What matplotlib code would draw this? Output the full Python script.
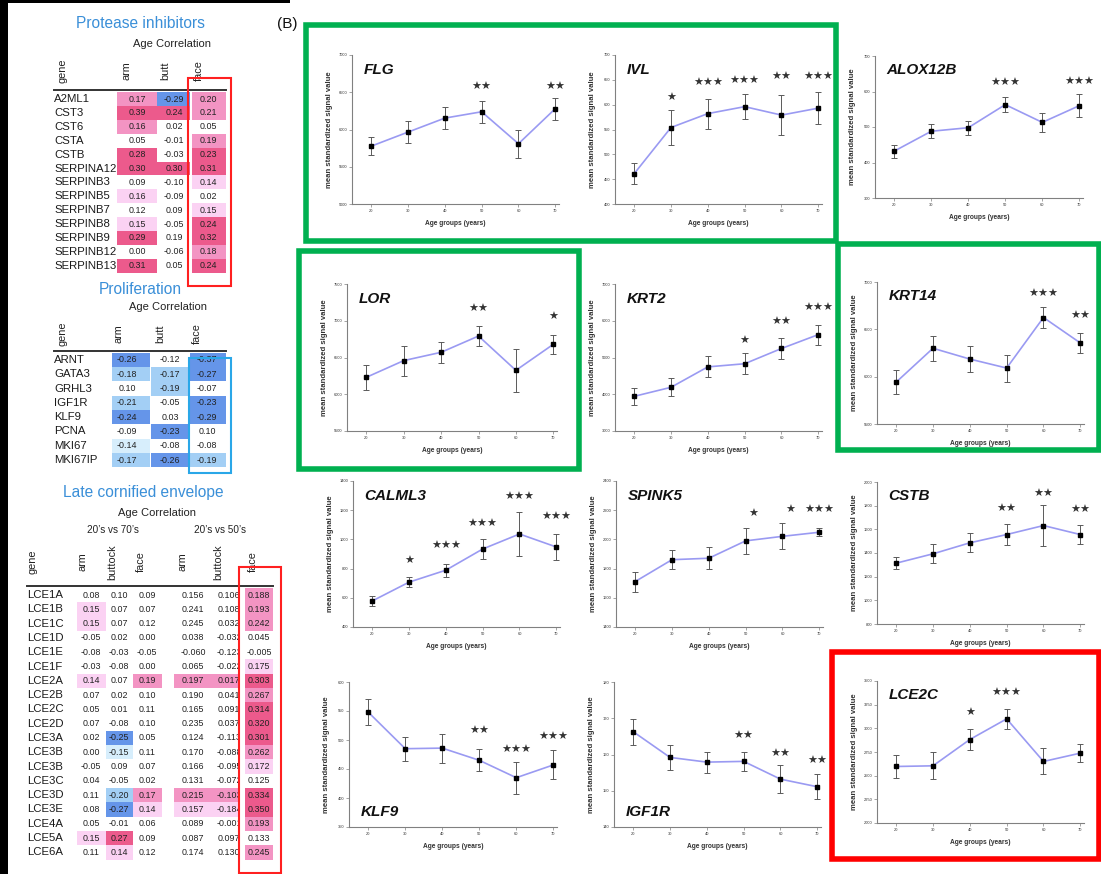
import numpy as np
import matplotlib
matplotlib.use("Agg")
from matplotlib import pyplot as plt
from matplotlib.patches import Rectangle

plt.rcParams['font.family'] = ['Liberation Sans', 'DejaVu Sans']

W, H = 1101, 874

# ---------------- left tables ----------------
prot_genes = ["A2ML1", "CST3", "CST6", "CSTA", "CSTB", "SERPINA12", "SERPINB3",
              "SERPINB5", "SERPINB7", "SERPINB8", "SERPINB9", "SERPINB12", "SERPINB13"]
prot_arm = [0.17, 0.39, 0.16, 0.05, 0.28, 0.30, 0.09, 0.16, 0.12, 0.15, 0.29, 0.00, 0.31]
prot_butt = [-0.29, 0.24, 0.02, -0.01, -0.03, 0.30, -0.10, -0.09, 0.09, -0.05, 0.19, -0.06, 0.05]
prot_face = [0.20, 0.21, 0.05, 0.19, 0.23, 0.31, 0.14, 0.02, 0.15, 0.24, 0.32, 0.18, 0.24]
# shading: 1..3 pink, -1..-3 blue, 0 none
prot_arm_lvl = [2, 3, 2, 0, 3, 3, 0, 1, 0, 1, 3, 0, 3]
prot_butt_lvl = [-3, 3, 0, 0, 0, 3, 0, 0, 0, 0, 0, 0, 0]
prot_face_lvl = [2, 2, 0, 2, 3, 3, 1, 0, 1, 3, 3, 2, 3]

prol_genes = ["ARNT", "GATA3", "GRHL3", "IGF1R", "KLF9", "PCNA", "MKI67", "MKI67IP"]
prol_arm = [-0.26, -0.18, 0.10, -0.21, -0.24, -0.09, -0.14, -0.17]
prol_butt = [-0.12, -0.17, -0.19, -0.05, 0.03, -0.23, -0.08, -0.26]
prol_face = [-0.37, -0.27, -0.07, -0.23, -0.29, 0.10, -0.08, -0.19]
prol_arm_lvl = [-3, -2, 0, -2, -3, 0, -1, -2]
prol_butt_lvl = [0, -2, -2, 0, 0, -3, 0, -3]
prol_face_lvl = [-3, -3, 0, -3, -3, 0, 0, -2]

lce_genes = ["LCE1A", "LCE1B", "LCE1C", "LCE1D", "LCE1E", "LCE1F", "LCE2A", "LCE2B",
             "LCE2C", "LCE2D", "LCE3A", "LCE3B", "LCE3B", "LCE3C", "LCE3D", "LCE3E",
             "LCE4A", "LCE5A", "LCE6A"]
lce_arm70 = [0.08, 0.15, 0.15, -0.05, -0.08, -0.03, 0.14, 0.07, 0.05, 0.07, 0.02, 0.00,
             -0.05, 0.04, 0.11, 0.08, 0.05, 0.15, 0.11]
lce_butt70 = [0.10, 0.07, 0.07, 0.02, -0.03, -0.08, 0.07, 0.02, 0.01, -0.08, -0.25, -0.15,
              0.09, -0.05, -0.20, -0.27, -0.01, 0.27, 0.14]
lce_face70 = [0.09, 0.07, 0.12, 0.00, -0.05, 0.00, 0.19, 0.10, 0.11, 0.10, 0.05, 0.11,
              0.07, 0.02, 0.17, 0.14, 0.06, 0.09, 0.12]
lce_arm50 = [0.156, 0.241, 0.245, 0.038, -0.060, 0.065, 0.197, 0.190, 0.165, 0.235, 0.124,
             0.170, 0.166, 0.131, 0.215, 0.157, 0.089, 0.087, 0.174]
lce_butt50 = [0.106, 0.108, 0.032, -0.032, -0.123, -0.022, 0.017, 0.041, 0.091, 0.037,
              -0.113, -0.088, -0.095, -0.072, -0.103, -0.184, -0.001, 0.097, 0.130]
lce_face50 = [0.188, 0.193, 0.242, 0.045, -0.005, 0.175, 0.303, 0.267, 0.314, 0.320, 0.301,
              0.262, 0.172, 0.125, 0.334, 0.350, 0.193, 0.133, 0.245]
lce_arm70_lvl = [0, 1, 1, 0, 0, 0, 1, 0, 0, 0, 0, 0, 0, 0, 0, 0, 0, 1, 0]
lce_butt70_lvl = [0, 0, 0, 0, 0, 0, 0, 0, 0, 0, -3, -1, 0, 0, -2, -3, 0, 3, 1]
lce_face70_lvl = [0, 0, 0, 0, 0, 0, 2, 0, 0, 0, 0, 0, 0, 0, 2, 1, 0, 0, 0]
lce_arm50_lvl = [0, 0, 0, 0, 0, 0, 2, 0, 0, 0, 0, 0, 0, 0, 2, 1, 0, 0, 0]
lce_butt50_lvl = [0, 0, 0, 0, 0, 0, 2, 0, 0, 0, 0, 0, 0, 0, 2, 1, 0, 0, 0]
lce_face50_lvl = [2, 2, 2, 0, 0, 1, 3, 2, 3, 3, 3, 2, 1, 0, 3, 3, 2, 0, 2]

# ---------------- line charts ----------------
ages = [20, 30, 40, 50, 60, 70]

flg = [5776, 5965, 6153, 6238, 5809, 6280]
flg_err = [120, 150, 150, 146, 190, 146]
flg_stars = [(50, 2, 6576), (70, 2, 6576)]

ivl = [461, 554, 582, 596, 579, 593]
ivl_err = [21, 35, 30, 25, 41, 32]
ivl_stars = [(30, 1, 614), (40, 3, 643), (50, 3, 648), (60, 2, 655), (70, 3, 655)]

alox = [432, 488, 498, 563, 513, 560]
alox_err = [18, 20, 20, 21, 27, 33]
alox_stars = [(50, 3, 624), (70, 3, 627)]

lor = [6231, 6458, 6571, 6792, 6325, 6679]
lor_err = [172, 205, 146, 140, 288, 130]
lor_stars = [(50, 2, 7160), (70, 1, 7052)]

krt2 = [3943, 4189, 4745, 4830, 5245, 5623]
krt2_err = [226, 245, 285, 280, 290, 270]
krt2_stars = [(50, 1, 5462), (60, 2, 5962), (70, 3, 6340)]

krt14 = [5942, 6300, 6186, 6091, 6625, 6356]
krt14_err = [127, 134, 133, 143, 112, 101]
krt14_stars = [(60, 3, 6876), (70, 2, 6643)]

calml3 = [578, 707, 789, 934, 1037, 948]
calml3_err = [36, 34, 44, 68, 152, 89]
calml3_stars = [(30, 1, 850), (40, 3, 953), (50, 3, 1103), (60, 3, 1290), (70, 3, 1154)]

spink5 = [1711, 1861, 1871, 1990, 2021, 2049]
spink5_err = [69, 67, 74, 90, 90, 27]
spink5_stars = [(52, 1, 2173), (62, 1, 2201), (70, 3, 2201)]

cstb = [1314, 1393, 1486, 1556, 1632, 1556]
cstb_err = [48, 79, 80, 86, 174, 79]
cstb_stars = [(50, 2, 1770), (60, 2, 1896), (70, 2, 1764)]

klf9 = [548, 485, 486, 465, 435, 457]
klf9_err = [22, 20.5, 25, 19, 27.5, 25]
klf9_stars = [(50, 2, 516), (60, 3, 483), (70, 3, 505)]

igf1r = [166.3, 159.2, 157.9, 158.1, 153.2, 151.1]
igf1r_err = [3.6, 3.5, 2.9, 2.6, 3.8, 3.4]
igf1r_stars = [(50, 2, 165.1), (60, 2, 160.1), (70, 2, 158.1)]

lce2c = [2597, 2604, 2882, 3100, 2650, 2738]
lce2c_err = [126, 144, 116, 107, 137, 98]
lce2c_stars = [(40, 1, 3159), (50, 3, 3377)]

panels = [
    # name, mean, err, stars, (ymin, ymax, step), label at bottom, (left, top, w, h) px
    ("FLG", flg, flg_err, flg_stars, (5000, 7000, 500), False, (352, 55, 207, 149)),
    ("IVL", ivl, ivl_err, ivl_stars, (400, 700, 50), False, (615, 55, 207, 149)),
    ("ALOX12B", alox, alox_err, alox_stars, (300, 700, 100), False, (875, 56, 208, 142)),
    ("LOR", lor, lor_err, lor_stars, (5500, 7500, 500), False, (347, 284, 210, 147)),
    ("KRT2", krt2, krt2_err, krt2_stars, (3000, 7000, 1000), False, (615, 284, 207, 147)),
    ("KRT14", krt14, krt14_err, krt14_stars, (5500, 7000, 500), False, (877, 282, 207, 142)),
    ("CALML3", calml3, calml3_err, calml3_stars, (400, 1400, 200), False, (353, 481, 207, 146)),
    ("SPINK5", spink5, spink5_err, spink5_stars, (1400, 2400, 200), False, (616, 481, 207, 146)),
    ("CSTB", cstb, cstb_err, cstb_stars, (800, 2000, 200), False, (877, 482, 207, 142)),
    ("KLF9", klf9, klf9_err, klf9_stars, (350, 600, 50), True, (349, 682, 208, 145)),
    ("IGF1R", igf1r, igf1r_err, igf1r_stars, (140, 180, 10), True, (614, 682, 207, 145)),
    ("LCE2C", lce2c, lce2c_err, lce2c_stars, (2000, 3500, 250), False, (877, 681, 207, 142)),
]

PINK = {1: '#fbd2f3', 2: '#f394c3', 3: '#ec5a8c'}
BLUE = {-1: '#d7eefc', -2: '#a3cff5', -3: '#6595e9'}
TITLE = '#3a8fd8'


def shade(lvl):
    return PINK.get(lvl) or BLUE.get(lvl)


fig = plt.figure(figsize=(W / 100, H / 100), dpi=100)
fig.patch.set_facecolor('white')

bg = fig.add_axes([0, 0, 1, 1])
bg.set_xlim(0, W)
bg.set_ylim(H, 0)
bg.axis('off')


def draw_table(genes, cols, y0, dy, name_x):
    for i, g in enumerate(genes):
        y = y0 + i * dy
        bg.text(name_x, y, g, fontsize=8.2, ha='left', va='center', color='#1a1a1a')
        for vals, lvls, x0, x1, tx, nd, z in cols:
            if lvls[i]:
                bg.add_patch(Rectangle((x0, y - dy / 2), x1 - x0, dy, facecolor=shade(lvls[i]),
                                       lw=0, zorder=z))
            bg.text(tx, y, f"{vals[i]:.{nd}f}", fontsize=6.4, ha='center', va='center',
                    color='#222222', zorder=z + 0.5)


def headers(names, xs, yc, gene_x):
    bg.text(gene_x, yc, "gene", rotation=90, fontsize=7.8, ha='center', va='center', color='#222')
    for n, x in zip(names, xs):
        bg.text(x, yc, n, rotation=90, fontsize=7.8, ha='center', va='center', color='#222')


# Protease inhibitors
bg.text(140, 24, "Protease inhibitors", fontsize=11.2, color=TITLE, ha='center', va='center')
bg.text(172, 44, "Age Correlation", fontsize=8, ha='center', va='center', color='#222')
headers(["arm", "butt", "face"], [127, 165, 199], 71, 62)
bg.plot([54, 226], [90, 90], color='#333333', lw=1.4)
draw_table(prot_genes, [
    (prot_arm, prot_arm_lvl, 117, 157, 137, 2, 1),
    (prot_butt, prot_butt_lvl, 157, 190, 174, 2, 1),
    (prot_face, prot_face_lvl, 192, 226, 208, 2, 1),
], 99, 13.9, 54)

# Proliferation
bg.text(140, 290, "Proliferation", fontsize=11.2, color=TITLE, ha='center', va='center')
bg.text(168, 307, "Age Correlation", fontsize=8, ha='center', va='center', color='#222')
headers(["arm", "butt", "face"], [118, 160, 197], 334, 63)
bg.plot([54, 226], [351, 351], color='#333333', lw=1.4)
draw_table(prol_genes, [
    (prol_arm, prol_arm_lvl, 112, 150, 127, 2, 1),
    (prol_butt, prol_butt_lvl, 151, 189, 170, 2, 1),
    (prol_face, prol_face_lvl, 190, 226, 207, 2, 1),
], 360, 14.3, 54)

# Late cornified envelope
bg.text(143, 492, "Late cornified envelope", fontsize=11.2, color=TITLE, ha='center', va='center')
bg.text(157, 513, "Age Correlation", fontsize=8, ha='center', va='center', color='#222')
bg.text(113, 530, "20\u2019s vs 70\u2019s", fontsize=7.2, ha='center', va='center', color='#222')
bg.text(220, 530, "20\u2019s vs 50\u2019s", fontsize=7.2, ha='center', va='center', color='#222')
headers(["arm", "buttock", "face", "arm", "buttock", "face"],
        [83, 112, 141, 183, 218, 253], 562, 33)
bg.plot([27, 273], [586, 586], color='#333333', lw=1.4)
lce_y0, lce_dy = 595, 14.3
# white column under the last column hides the overflow of the buttock values
bg.add_patch(Rectangle((239, lce_y0 - lce_dy / 2), 37, lce_dy * len(lce_genes),
                       facecolor='white', lw=0, zorder=3))
draw_table(lce_genes, [
    (lce_arm70, lce_arm70_lvl, 77, 106, 91, 2, 1),
    (lce_butt70, lce_butt70_lvl, 106, 133, 119, 2, 1),
    (lce_face70, lce_face70_lvl, 133, 162, 147, 2, 1),
    (lce_arm50, lce_arm50_lvl, 174, 213, 193, 3, 1),
    (lce_butt50, lce_butt50_lvl, 213, 239, 229, 3, 1),
    (lce_face50, lce_face50_lvl, 245, 273, 259, 3, 4),
], lce_y0, lce_dy, 27)

# black frame at the left / top
bg.add_patch(Rectangle((0, 0), 8, H, facecolor='black', lw=0, zorder=6))
bg.add_patch(Rectangle((0, 0), 290, 3, facecolor='black', lw=0, zorder=6))
bg.text(277, 24, "(B)", fontsize=11, ha='left', va='center', color='#111')


# ---------------- charts ----------------
def px_axes(l, t, w, h):
    return fig.add_axes([l / W, 1 - (t + h) / H, w / W, h / H])


for name, mean, err, stars, (lo, hi, step), bottom, (l, t, w, h) in panels:
    ax = px_axes(l, t, w, h)
    ax.errorbar(ages, mean, yerr=err, fmt='none', ecolor='#5a5a5a', elinewidth=0.7,
                capsize=2, capthick=0.7, zorder=2)
    ax.plot(ages, mean, color='#9a9af2', lw=1.2, zorder=3)
    ax.plot(ages, mean, 's', color='black', ms=2.4, zorder=4)
    ax.set_xlim(14.8, 71)
    ax.set_ylim(lo, hi)
    ax.set_xticks(ages)
    ax.set_yticks(np.arange(lo, hi + step / 2, step))
    ax.tick_params(labelsize=2.9, length=2, width=0.5, color='#808080', pad=1.5,
                   labelcolor='#333333')
    for s in ['top', 'right']:
        ax.spines[s].set_visible(False)
    for s in ['left', 'bottom']:
        ax.spines[s].set_color('#808080')
        ax.spines[s].set_linewidth(0.8)
    ax.set_ylabel("mean standardized signal value", fontsize=5.6, fontweight='bold',
                  color='#333333')
    ax.yaxis.set_label_coords(-19 / w, 0.5)
    ax.set_xlabel("Age groups (years)", fontsize=4.8, fontweight='bold', color='#333333')
    ax.xaxis.set_label_coords(0.5, -16 / h)
    ax.text(0.055, 0.1 if bottom else 0.9, name, transform=ax.transAxes, fontsize=11,
            fontweight='bold', style='italic', va='center', ha='left', color='#111')
    for x, n, y in stars:
        ax.text(x, y, "\u2605" * n, ha='center', va='center', fontsize=8, color='#333333',
                family='DejaVu Sans', clip_on=False)

# ---------------- highlight boxes ----------------
ov = fig.add_axes([0, 0, 1, 1], zorder=10)
ov.set_xlim(0, W)
ov.set_ylim(H, 0)
ov.axis('off')
ov.patch.set_alpha(0)

thin = [((188, 78), 43, 208, '#ff2020'),
        ((189, 358), 42, 115, '#2aa7e8'),
        ((239, 567), 42, 306, '#ff2020')]
for xy, w, h, c in thin:
    ov.add_patch(Rectangle(xy, w, h, fill=False, ec=c, lw=1.5))

thick = [((306, 25), 530, 216, '#00b050'),
         ((299, 251), 280, 218, '#00b050'),
         ((838, 244), 261, 206, '#00b050'),
         ((832, 652), 267, 207, '#ff0000')]
for xy, w, h, c in thick:
    ov.add_patch(Rectangle(xy, w, h, fill=False, ec=c, lw=4))

fig.savefig("out.png", dpi=100)
